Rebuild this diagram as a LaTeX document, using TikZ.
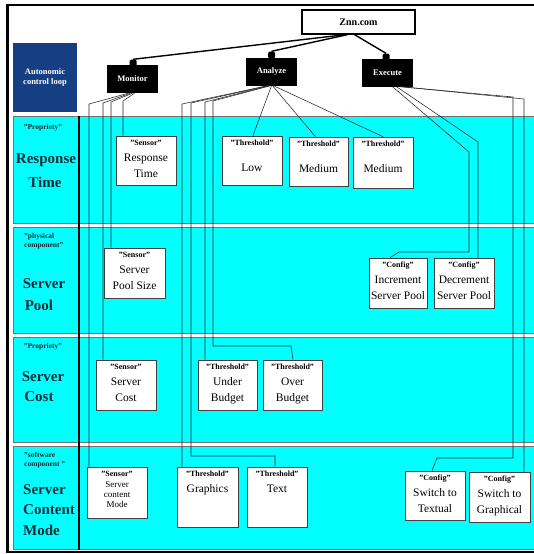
\documentclass[tikz,border=0pt]{standalone}
\usepackage{fontspec}
\setmainfont{Liberation Serif}
\definecolor{rowcyan}{RGB}{0,255,255}
\definecolor{navycell}{RGB}{22,62,130}
\definecolor{titlecol}{RGB}{12,45,55}
\newcommand{\qtag}[1]{{\fontsize{8}{9}\selectfont\bfseries "#1"}}
\begin{document}
\begin{tikzpicture}[x=1pt,y=-1pt]
\tikzset{
  band/.style={fill=rowcyan, draw=black!55, line width=0.7pt},
  wire/.style={draw=black!85, line width=0.55pt},
  feed/.style={draw=black, line width=1.4pt},
  wbox/.style={draw=black!75, fill=white, line width=0.7pt, inner sep=0pt},
  btext/.style={anchor=north, align=center, inner sep=0pt, font=\fontsize{11.5}{16}\selectfont},
  blk/.style={fill=black, text=white, inner sep=0pt, minimum width=51, minimum height=28,
              font=\fontsize{8.5}{10}\selectfont\bfseries},
  nub/.style={fill=black, rounded corners=1.5pt, minimum width=7, minimum height=7, inner sep=0pt},
  rowtitle/.style={text=titlecol, inner sep=0pt, font=\fontsize{15}{18}\selectfont\bfseries},
  rowtag/.style={text=titlecol, inner sep=0pt, align=left, font=\fontsize{7.5}{9.5}\selectfont\bfseries},
}
\useasboundingbox (0,0) rectangle (533,554);
\fill[white] (0,0) rectangle (533,554);

% outer frame (left, top, bottom)
\draw[line width=2.5pt] (540,5) -- (7.5,5) -- (7.5,552) -- (540,552);

% control-loop band and the four layer bands
\draw[draw=black!55, line width=0.6pt, double=white, double distance=1.2pt] (13,41) rectangle (540,113);
\fill[navycell] (13,42.5) rectangle (77,111.5);
\draw[band] (13,116) rectangle (540,223);
\draw[band] (13,227) rectangle (540,333);
\draw[band] (13,337) rectangle (540,442);
\draw[band] (13,446) rectangle (540,549.5);
\draw[line width=1.2pt] (79,116) -- (79,549.5);

% left column labels
\node[text=white, align=center, inner sep=0pt, font=\fontsize{8.5}{10}\selectfont\bfseries] (acl) at (45,77) {Autonomic\\control loop};

\node[rowtag] (tag1) at (43,128) {"Propriety"};
\node[rowtitle] (r1a) at (46,160) {Response};
\node[rowtitle] (r1b) at (45,182) {Time};

\node[rowtag, anchor=west] (tag2) at (24,241) {"physical\\component"};
\node[rowtitle] (r2a) at (44,284) {Server};
\node[rowtitle] (r2b) at (39,305) {Pool};

\node[rowtag] (tag3) at (43,347) {"Propriety"};
\node[rowtitle] (r3a) at (43,377) {Server};
\node[rowtitle] (r3b) at (39,397) {Cost};

\node[rowtag, anchor=west] (tag4) at (24,460) {"software\\component "};
\node[rowtitle, anchor=west] (r4a) at (23,490) {Server};
\node[rowtitle, anchor=west] (r4b) at (23,510) {Content};
\node[rowtitle, anchor=west] (r4c) at (23,530) {Mode};

% top-level system and the loop stages
\node[draw=black, line width=1.3pt, fill=white, minimum width=113, minimum height=24, inner sep=0pt,
      font=\fontsize{10}{12}\selectfont\bfseries] (znn) at (358.5,22) {Znn.com};
\node[blk] (mon) at (132.5,79) {Monitor};
\node[blk] (ana) at (271.5,71.5) {Analyze};
\node[blk] (exe) at (387.5,72.5) {Execute};

% boxes: Response Time layer
\node[wbox, minimum width=60, minimum height=49] (srt) at (146,160.5) {};
\node[btext] (srt-t) at ([yshift=-4pt]srt.north) {\qtag{Sensor}\\Response\\Time};
\node[wbox, minimum width=60, minimum height=49] (tlow) at (252,160.5) {};
\node[btext] (tlow-t) at ([yshift=-4pt]tlow.north) {\qtag{Threshold}\\[10pt]Low};
\node[wbox, minimum width=59, minimum height=49] (tmed1) at (318.5,161.5) {};
\node[btext] (tmed1-t) at ([yshift=-4pt]tmed1.north) {\qtag{Threshold}\\[10pt]Medium};
\node[wbox, minimum width=60, minimum height=51] (tmed2) at (383,162.5) {};
\node[btext] (tmed2-t) at ([yshift=-4pt]tmed2.north) {\qtag{Threshold}\\[10pt]Medium};

% boxes: Server Pool layer
\node[wbox, minimum width=61, minimum height=50] (sps) at (134.5,273) {};
\node[btext] (sps-t) at ([yshift=-4pt]sps.north) {\qtag{Sensor}\\Server\\Pool Size};
\node[wbox, minimum width=58, minimum height=50] (cinc) at (398,283) {};
\node[btext] (cinc-t) at ([yshift=-4pt]cinc.north) {\qtag{Config}\\Increment\\Server Pool};
\node[wbox, minimum width=60, minimum height=50] (cdec) at (464,283) {};
\node[btext] (cdec-t) at ([yshift=-4pt]cdec.north) {\qtag{Config}\\Decrement\\Server Pool};

% boxes: Server Cost layer
\node[wbox, minimum width=60, minimum height=50] (ssc) at (126,385) {};
\node[btext] (ssc-t) at ([yshift=-4pt]ssc.north) {\qtag{Sensor}\\Server\\Cost};
\node[wbox, minimum width=59, minimum height=50] (tub) at (227.5,385) {};
\node[btext] (tub-t) at ([yshift=-4pt]tub.north) {\qtag{Threshold}\\Under\\Budget};
\node[wbox, minimum width=59, minimum height=50] (tob) at (292.5,385) {};
\node[btext] (tob-t) at ([yshift=-4pt]tob.north) {\qtag{Threshold}\\Over\\Budget};

% boxes: Server Content Mode layer
\node[wbox, minimum width=60, minimum height=51] (scm) at (117,492.5) {};
\node[btext, font=\fontsize{9}{10}\selectfont] (scm-t) at ([yshift=-4pt]scm.north) {\qtag{Sensor}\\[1pt]Server\\content\\Mode};
\node[wbox, minimum width=61, minimum height=60] (tgr) at (207.5,497) {};
\node[btext] (tgr-t) at ([yshift=-4pt]tgr.north) {\qtag{Threshold}\\Graphics};
\node[wbox, minimum width=60, minimum height=60] (ttx) at (277,497) {};
\node[btext] (ttx-t) at ([yshift=-4pt]ttx.north) {\qtag{Threshold}\\Text};
\node[wbox, minimum width=60, minimum height=49] (csw1) at (435,495.5) {};
\node[btext] (csw1-t) at ([yshift=-4pt]csw1.north) {\qtag{Config}\\Switch to\\Textual};
\node[wbox, minimum width=61, minimum height=50] (csw2) at (499.5,497) {};
\node[btext] (csw2-t) at ([yshift=-4pt]csw2.north) {\qtag{Config}\\Switch to\\Graphical};

% Monitor -> sensors
\draw[wire] ([xshift=-4pt]mon.south) -- (89,104) -- (scm.north -| 89,104);
\draw[wire] ([xshift=-2pt]mon.south) -- (103,103) -- (ssc.north -| 103,103);
\draw[wire] ([xshift=0pt]mon.south) -- (111,102) -- (sps.north -| 111,102);
\draw[wire] ([xshift=2pt]mon.south) -- (123,101) -- (srt.north -| 123,101);

% Analyze -> thresholds
\draw[wire] ([xshift=-4pt]ana.south) -- (182,104) -- (tgr.north -| 182,104);
\draw[wire] ([xshift=-3pt]ana.south) -- (191,103) -- (191,456) -- (275,456) -- (ttx.north -| 275,456);
\draw[wire] ([xshift=-2pt]ana.south) -- (205,102) -- (tub.north -| 205,102);
\draw[wire] ([xshift=-1pt]ana.south) -- (213,101) -- (213,346) -- (291,346) -- (tob.north -| 293,346);
\draw[wire] (ana.south) -- ([xshift=1pt]tlow.north);
\draw[wire] ([xshift=1pt]ana.south) -- ([xshift=-3pt]tmed1.north);
\draw[wire] ([xshift=2pt]ana.south) -- (tmed2.north);

% Execute -> configurations
\draw[wire] ([xshift=5pt]exe.south) -- (469,152) -- (469,252) -- (399,252) -- ([xshift=-8pt]cinc.north);
\draw[wire] ([xshift=9pt]exe.south) -- (478,142) -- (cdec.north -| 478,142);
\draw[wire] ([xshift=12pt]exe.south) -- (513,97) -- (513,458) -- (437,458) -- ([xshift=-3pt]csw1.north);
\draw[wire] ([xshift=14pt]exe.south) -- (524,99) -- (csw2.north -| 524,99);

% system -> loop stages
\node[nub] (mnub) at (133,63) {};
\node[nub] (anub) at (271.5,55) {};
\node[nub] (enub) at (386,57) {};
\draw[feed] ([xshift=-13pt]znn.south) -- (mnub.north);
\draw[feed] ([xshift=-11pt]znn.south) -- (anub.north);
\draw[feed] ([xshift=-4pt]znn.south) -- (enub.north);
\end{tikzpicture}
\end{document}
